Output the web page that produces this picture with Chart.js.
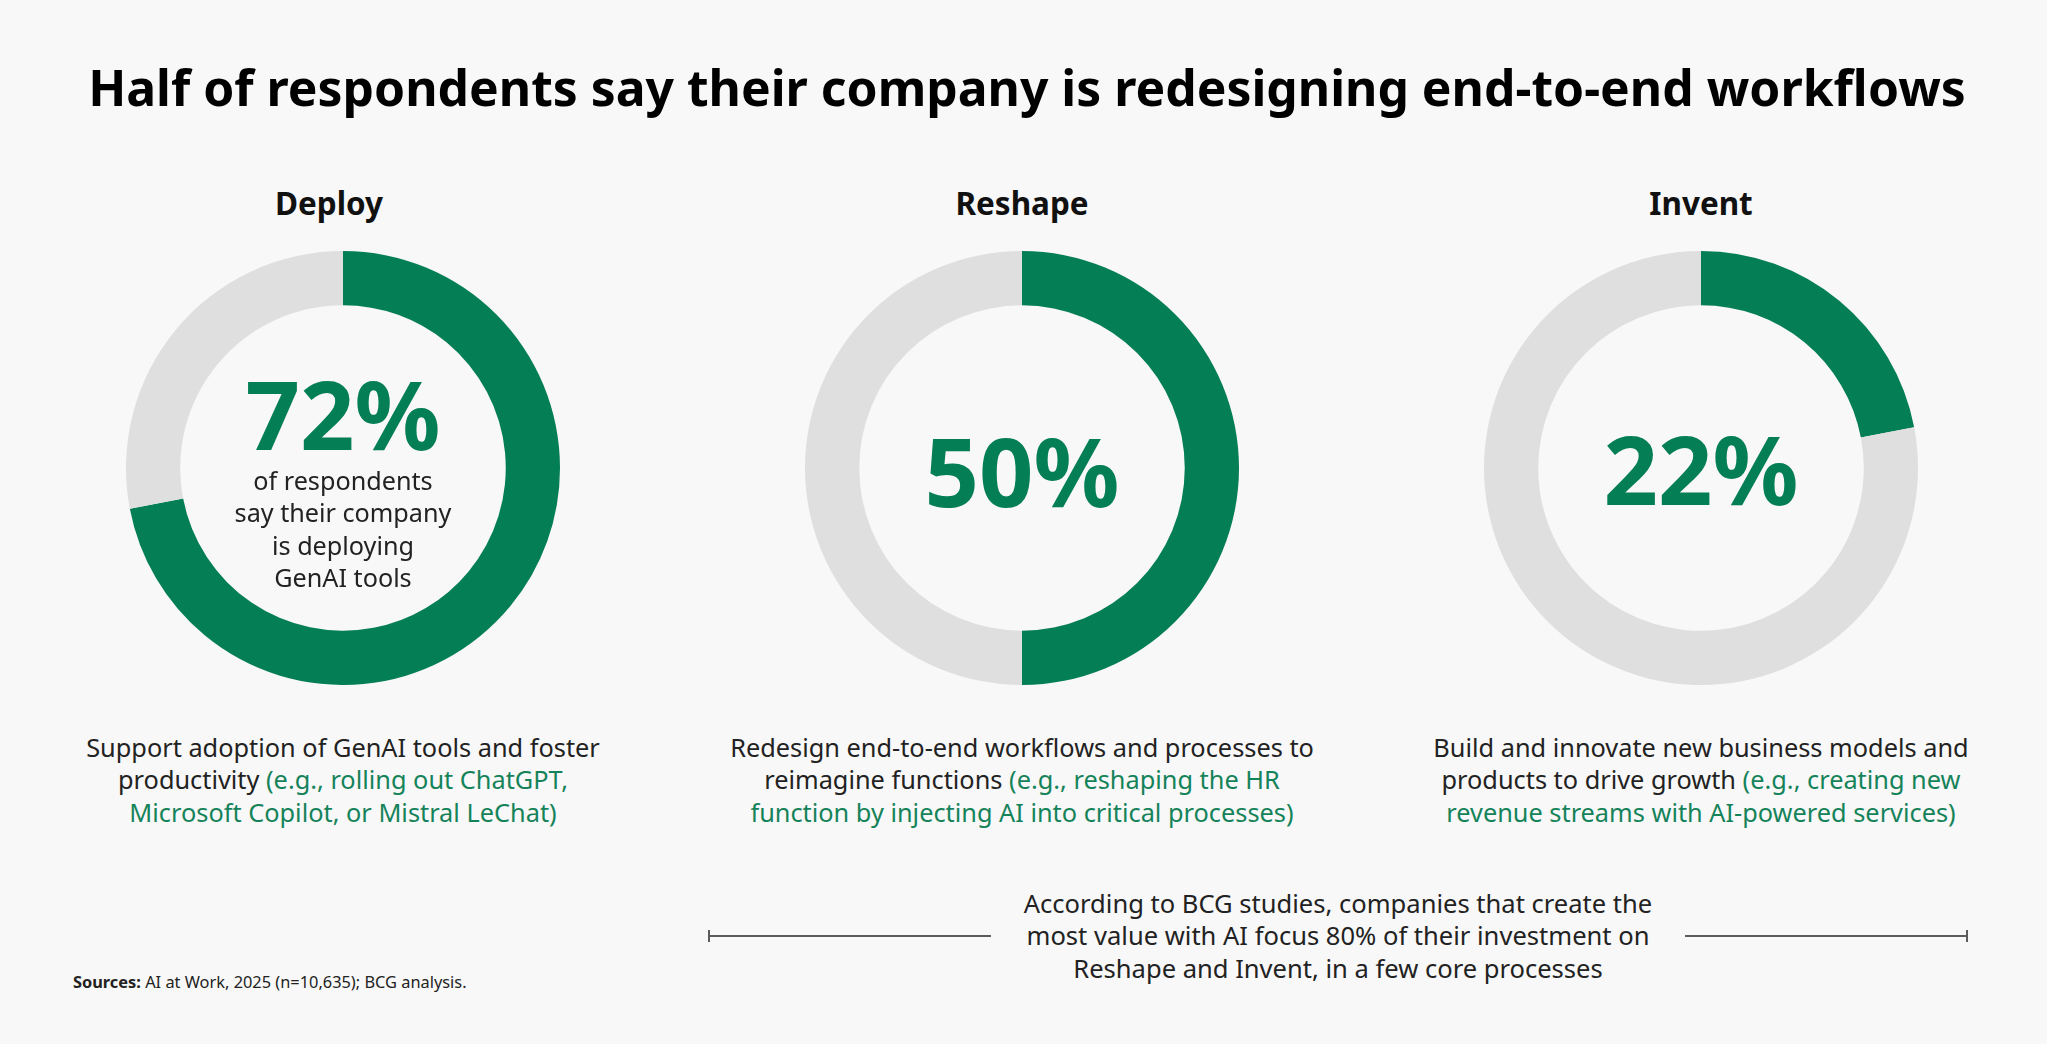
<!DOCTYPE html>
<html>
<head>
<meta charset="utf-8">
<script src="https://cdn.jsdelivr.net/npm/chart.js@4.4.1/dist/chart.umd.min.js"></script>
<style>
  html, body { margin: 0; background: #f8f8f8; }
  #stage { position: relative; width: 2047px; height: 1044px; overflow: hidden;
           font-family: 'Noto Sans', sans-serif; color: #222; }
  .t { position: absolute; white-space: nowrap; text-align: center; }
  .t.left { text-align: left; }
  .bold { font-weight: 700; }
  .eg { color: #15835a; }
  .num { color: #047e54; font-weight: 700; }
  canvas { position: absolute; }
  .rule { position: absolute; height: 2px; background: #5c5c5c; }
  .tick { position: absolute; width: 2px; height: 12px; background: #5c5c5c; }
</style>
</head>
<body>
<div id="stage"></div>
<script>
// ── DATA ──────────────────────────────────────────────────────
const TITLE   = 'Half of respondents say their company is redesigning end-to-end workflows';
const panels  = ['Deploy', 'Reshape', 'Invent'];
const share   = [72, 50, 22];   // % of respondents
const rest    = [28, 50, 78];
const deployNote = ['of respondents', 'say their company', 'is deploying', 'GenAI tools'];
const descriptions = [
  ['Support adoption of GenAI tools and foster',
   'productivity <span class="eg">(e.g., rolling out ChatGPT,</span>',
   '<span class="eg">Microsoft Copilot, or Mistral LeChat)</span>'],
  ['Redesign end-to-end workflows and processes to',
   'reimagine functions <span class="eg">(e.g., reshaping the HR</span>',
   '<span class="eg">function by injecting AI into critical processes)</span>'],
  ['Build and innovate new business models and',
   'products to drive growth <span class="eg">(e.g., creating new</span>',
   '<span class="eg">revenue streams with AI-powered services)</span>'],
];
const footNote = ['According to BCG studies, companies that create the',
                  'most value with AI focus 80% of their investment on',
                  'Reshape and Invent, in a few core processes'];
const SOURCES = '<b>Sources:</b> AI at Work, 2025 (n=10,635); BCG analysis.';

// ── LAYOUT ────────────────────────────────────────────────────
const GREEN = '#047e54', GRAY = '#dfdfdf';
const CX = [343, 1022, 1701], CY = 468, R = 217;
const stage = document.getElementById('stage');

function addText(lines, cls = '') {
  const el = document.createElement('div');
  el.className = 't ' + cls;
  el.innerHTML = lines.map(l => `<div>${l}</div>`).join('');
  stage.appendChild(el);
  return el;
}
// font size that makes the widest line of el as wide as targetW
function sizeFor(el, targetW) {
  el.style.fontSize = '100px';
  el.style.lineHeight = 'normal';
  return 100 * targetW / el.getBoundingClientRect().width;
}
// place by first baseline (Noto Sans: ascent 1.069, descent 0.293)
function place(el, fs, x, baseline, lh, align = 'center') {
  el.style.fontSize = fs + 'px';
  el.style.lineHeight = lh + 'px';
  const w = el.getBoundingClientRect().width;
  el.style.left = (align === 'center' ? x - w / 2 : x) + 'px';
  el.style.top = (baseline - lh / 2 - 0.388 * fs) + 'px';
}

// title
const titleEl = addText([TITLE], 'bold');
titleEl.style.color = '#000';
const fsTitle = sizeFor(titleEl, 1878);
place(titleEl, fsTitle, 1027, 107, fsTitle * 1.2);

// panel headers
const heads = panels.map(p => addText([p], 'bold'));
heads.forEach(h => h.style.color = '#111');
const fsHead = sizeFor(heads[0], 108);
heads.forEach((h, i) => place(h, fsHead, CX[i] - (i === 0 ? 14 : 0), 215, fsHead * 1.2));

// ── DONUTS ────────────────────────────────────────────────────
panels.forEach((p, i) => {
  const cv = document.createElement('canvas');
  cv.width = 2 * R; cv.height = 2 * R;
  cv.style.left = (CX[i] - R) + 'px';
  cv.style.top = (CY - R) + 'px';
  stage.appendChild(cv);
  new Chart(cv, {
    type: 'doughnut',
    data: {
      labels: [p, 'Other'],
      datasets: [{
        data: [share[i], rest[i]],
        backgroundColor: [GREEN, GRAY],
        borderWidth: 0, hoverOffset: 0, offset: 0,
      }]
    },
    options: {
      responsive: false, animation: false, events: [],
      cutout: '75%', rotation: 0,
      layout: { padding: 0 },
      plugins: { legend: { display: false }, tooltip: { enabled: false } }
    }
  });
});

// centre numbers
const numBase = [450, 507, 505];
const numW = [193, 195, 191];
const nums = share.map(v => addText([v + '%'], 'num'));
const fsNum = sizeFor(nums[1], numW[1]);
nums.forEach((n, i) => place(n, fsNum, CX[i], numBase[i], fsNum * 1.1));

const deployEl = addText(deployNote);
const fsDeploy = sizeFor(deployEl, 217);
place(deployEl, fsDeploy, CX[0], 490, 32.3);

// descriptions under the donuts
const descEls = descriptions.map(d => addText(d));
const fsDesc = sizeFor(descEls[0], 514);
descEls.forEach((d, i) => place(d, fsDesc, CX[i], 757, 32.5));

// bracket note
const noteEl = addText(footNote);
const fsNote = sizeFor(noteEl, 629);
place(noteEl, fsNote, 1338, 913, 32.5);

function rule(x1, x2, y) {
  const r = document.createElement('div');
  r.className = 'rule';
  r.style.left = x1 + 'px'; r.style.width = (x2 - x1) + 'px'; r.style.top = (y - 1) + 'px';
  stage.appendChild(r);
}
function tick(x, y) {
  const t = document.createElement('div');
  t.className = 'tick';
  t.style.left = (x - 1) + 'px'; t.style.top = (y - 6) + 'px';
  stage.appendChild(t);
}
rule(709, 991, 936);  tick(709, 936);
rule(1685, 1967, 936); tick(1967, 936);

// sources
const srcEl = addText([SOURCES], 'left');
const fsSrc = sizeFor(srcEl, 394);
place(srcEl, fsSrc, 73, 989, fsSrc * 1.3, 'left');
</script>
</body>
</html>
